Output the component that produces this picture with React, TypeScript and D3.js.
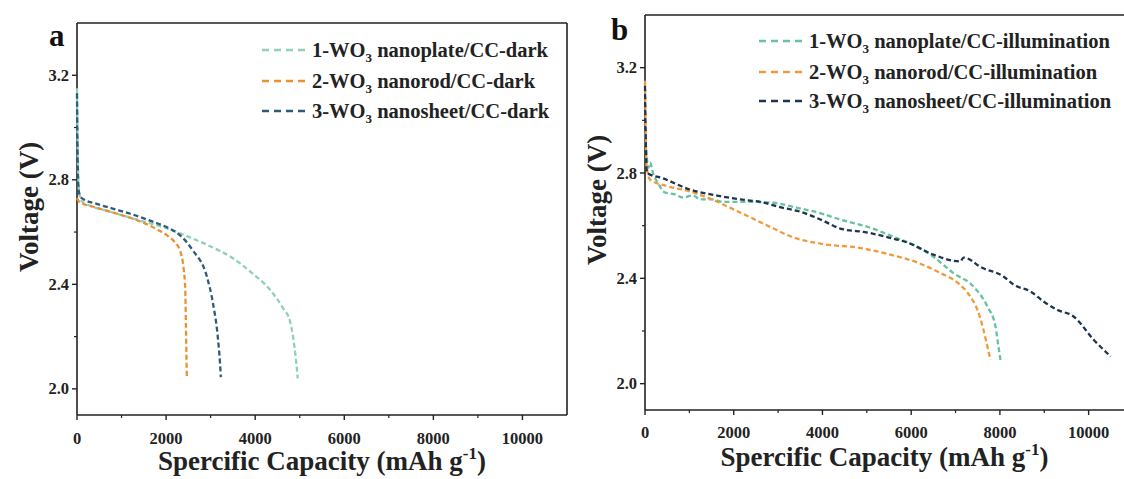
import React from "react";
import * as d3 from "d3";

// ---------- data ----------
const xTicks = [0, 2000, 4000, 6000, 8000, 10000];
const xMinor = [1000, 3000, 5000, 7000, 9000];
const yTicks = [2.0, 2.4, 2.8, 3.2];
const yMinor = [2.2, 2.6, 3.0];

// panel a (dark)
const a1X = [0, 10, 30, 60, 100, 300, 600, 1000, 1500, 2000, 2300, 2600, 3000, 3500, 3950, 4330, 4620, 4780, 4850, 4910, 4940, 4955];
const a1Y = [3.15, 3.0, 2.8, 2.74, 2.72, 2.70, 2.685, 2.665, 2.64, 2.615, 2.596, 2.575, 2.545, 2.50, 2.44, 2.38, 2.31, 2.26, 2.20, 2.12, 2.07, 2.04];
const a2X = [0, 30, 100, 300, 600, 1000, 1500, 1800, 2000, 2200, 2310, 2400, 2430, 2445, 2455, 2465];
const a2Y = [2.73, 2.72, 2.71, 2.70, 2.685, 2.665, 2.635, 2.61, 2.59, 2.56, 2.53, 2.45, 2.38, 2.25, 2.15, 2.045];
const a3X = [0, 10, 30, 60, 150, 400, 800, 1200, 1700, 2000, 2310, 2600, 2915, 3050, 3160, 3210, 3229];
const a3Y = [3.13, 2.95, 2.78, 2.74, 2.725, 2.71, 2.69, 2.67, 2.64, 2.62, 2.588, 2.53, 2.43, 2.33, 2.20, 2.10, 2.045];

// panel b (illumination)
const b1X = [0, 40, 80, 113, 180, 300, 451, 650, 858, 1084, 1242, 1500, 1761, 2144, 2500, 2889, 3431, 4000, 4402, 5011, 5598, 6140, 6501, 6952, 7403, 7719, 7900, 7968, 8013];
const b1Y = [2.95, 2.86, 2.82, 2.84, 2.80, 2.76, 2.726, 2.72, 2.707, 2.715, 2.70, 2.70, 2.69, 2.69, 2.69, 2.687, 2.668, 2.645, 2.623, 2.596, 2.558, 2.52, 2.482, 2.42, 2.369, 2.293, 2.217, 2.14, 2.09];
const b2X = [0, 15, 40, 113, 497, 1016, 1400, 2144, 2889, 3273, 4018, 4786, 5530, 6140, 6659, 7042, 7336, 7494, 7629, 7719, 7787];
const b2Y = [3.15, 2.95, 2.82, 2.775, 2.75, 2.73, 2.707, 2.65, 2.59, 2.56, 2.53, 2.517, 2.49, 2.46, 2.42, 2.384, 2.33, 2.28, 2.205, 2.14, 2.09];
const b3X = [0, 15, 45, 400, 1016, 1600, 2144, 2600, 3047, 3499, 4000, 4402, 5011, 5500, 5914, 6501, 7110, 7178, 7600, 8081, 8307, 8691, 9000, 9300, 9661, 10113, 10497];
const b3Y = [3.13, 2.95, 2.80, 2.78, 2.737, 2.715, 2.70, 2.69, 2.67, 2.653, 2.62, 2.589, 2.574, 2.555, 2.536, 2.49, 2.464, 2.479, 2.44, 2.407, 2.376, 2.35, 2.31, 2.28, 2.255, 2.167, 2.103];

const namesA = ["nanoplate/CC-dark", "nanorod/CC-dark", "nanosheet/CC-dark"];
const namesB = ["nanoplate/CC-illumination", "nanorod/CC-illumination", "nanosheet/CC-illumination"];
const colorsA = ["#8fd0ba", "#ea912f", "#2e5b7b"];
const colorsB = ["#66c39e", "#f09a3c", "#1e3550"];

const FONT = "'Liberation Serif', 'Times New Roman', serif";

type PanelProps = {
  left: number; right: number; top: number; bottom: number;
  letter: string; letterX: number; letterY: number;
  series: { x: number[]; y: number[] }[];
  names: string[]; colors: string[];
  legX: number; legY: number[];
  ylabX: number; ylabY: number; xlabY: number; tickLabY: number;
  clipRight: number;
};

function Panel(p: PanelProps) {
  const x = d3.scaleLinear().domain([0, 11000]).range([p.left, p.right]);
  const y = d3.scaleLinear().domain([1.9, 3.4]).range([p.bottom, p.top]);
  const line = d3.line<[number, number]>().x(d => x(d[0])).y(d => y(d[1])).curve(d3.curveMonotoneX);
  const cx = (p.left + Math.min(p.right, p.clipRight)) / 2;
  return (
    <g>
      {/* frame */}
      <line x1={p.left} x2={p.right} y1={p.top} y2={p.top} stroke="#222" strokeWidth={1.6} />
      <line x1={p.right} x2={p.right} y1={p.top} y2={p.bottom} stroke="#222" strokeWidth={1.6} />
      <line x1={p.left} x2={p.right} y1={p.bottom} y2={p.bottom} stroke="#222" strokeWidth={1.6} />
      <line x1={p.left} x2={p.left} y1={p.top} y2={p.bottom} stroke="#222" strokeWidth={1.6} />
      {/* x ticks */}
      {xTicks.map(t => (
        <g key={"xt" + t}>
          <line x1={x(t)} x2={x(t)} y1={p.bottom} y2={p.bottom + 5} stroke="#222" strokeWidth={1.4} />
          <text x={x(t)} y={p.tickLabY} textAnchor="middle" fontFamily={FONT} fontWeight="bold" fontSize={16.5} fill="#222">{t}</text>
        </g>
      ))}
      {xMinor.map(t => (
        <line key={"xm" + t} x1={x(t)} x2={x(t)} y1={p.bottom} y2={p.bottom + 3} stroke="#222" strokeWidth={1.2} />
      ))}
      {/* y ticks */}
      {yTicks.map(t => (
        <g key={"yt" + t}>
          <line x1={p.left - 5} x2={p.left} y1={y(t)} y2={y(t)} stroke="#222" strokeWidth={1.4} />
          <text x={p.left - 8} y={y(t) + 5.5} textAnchor="end" fontFamily={FONT} fontWeight="bold" fontSize={16.5} fill="#222">{t.toFixed(1)}</text>
        </g>
      ))}
      {yMinor.map(t => (
        <line key={"ym" + t} x1={p.left - 3} x2={p.left} y1={y(t)} y2={y(t)} stroke="#222" strokeWidth={1.2} />
      ))}
      {/* curves */}
      {p.series.map((s, i) => (
        <path key={"s" + i} d={line(s.x.map((v, j) => [v, s.y[j]] as [number, number])) || ""}
          fill="none" stroke={p.colors[i]} strokeWidth={2.3} strokeDasharray="5,3" />
      ))}
      {/* legend */}
      {p.names.map((n, i) => (
        <g key={"l" + i}>
          <line x1={p.legX} x2={p.legX + 47} y1={p.legY[i]} y2={p.legY[i]} stroke={p.colors[i]} strokeWidth={2.5} strokeDasharray="7,5" />
          <text x={p.legX + 50} y={p.legY[i] + 7} fontFamily={FONT} fontWeight="bold" fontSize={20.5} fill="#222">
            {`${i + 1}-WO`}<tspan fontSize={13} dy={5}>3</tspan><tspan dy={-5}>{" " + n}</tspan>
          </text>
        </g>
      ))}
      {/* titles */}
      <text x={p.letterX} y={p.letterY} fontFamily={FONT} fontWeight="bold" fontSize={31} fill="#111">{p.letter}</text>
      <text x={cx} y={p.xlabY} textAnchor="middle" fontFamily={FONT} fontWeight="bold" fontSize={27} fill="#222">
        Spercific Capacity (mAh g<tspan fontSize={17} dy={-11}>-1</tspan><tspan dy={11}>)</tspan>
      </text>
      <text transform={`translate(${p.ylabX},${p.ylabY}) rotate(-90)`} textAnchor="middle"
        fontFamily={FONT} fontWeight="bold" fontSize={27} fill="#222">Voltage (V)</text>
    </g>
  );
}

export default function App() {
  return (
    <div style={{ position: "absolute", left: 0, top: 0 }}>
      <svg width={1124} height={479} style={{ display: "block", background: "#fff" }}>
        <Panel left={77} right={567} top={23} bottom={415} letter="a" letterX={49} letterY={46}
          series={[{ x: a1X, y: a1Y }, { x: a2X, y: a2Y }, { x: a3X, y: a3Y }]}
          names={namesA} colors={colorsA} legX={262} legY={[50, 81, 111]}
          ylabX={38} ylabY={207} xlabY={470} tickLabY={444} clipRight={567} />
        <Panel left={645} right={1133} top={15} bottom={410} letter="b" letterX={611} letterY={40}
          series={[{ x: b1X, y: b1Y }, { x: b2X, y: b2Y }, { x: b3X, y: b3Y }]}
          names={namesB} colors={colorsB} legX={759} legY={[41, 72, 101]}
          ylabX={606} ylabY={200} xlabY={466} tickLabY={438} clipRight={1124} />
      </svg>
    </div>
  );
}
